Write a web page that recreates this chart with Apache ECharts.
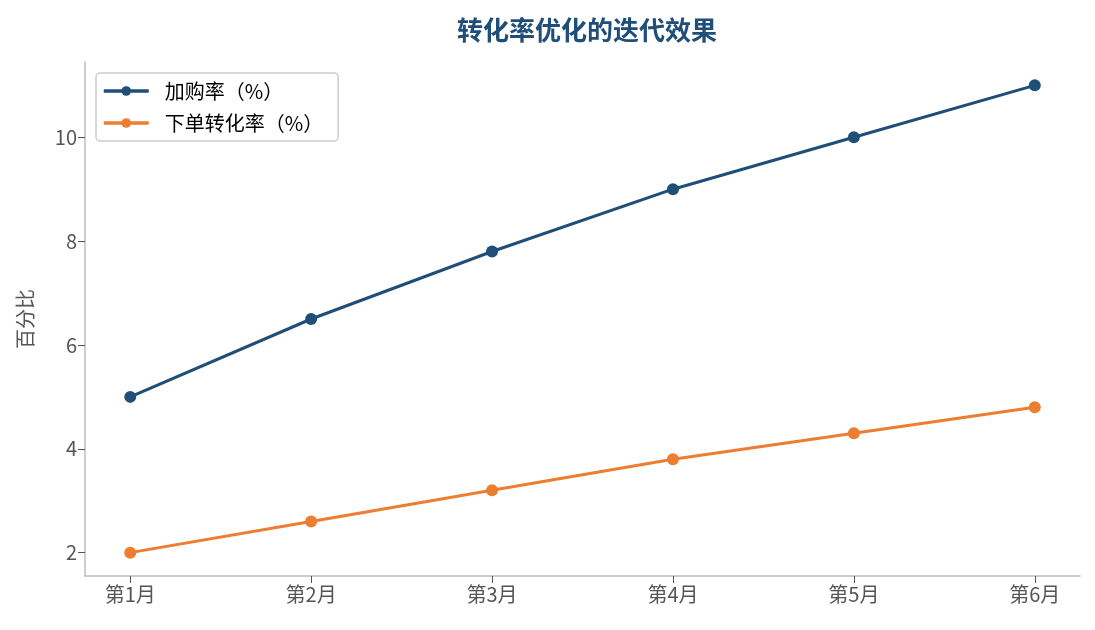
<!DOCTYPE html>
<html><head><meta charset="utf-8">
<script src="https://cdn.jsdelivr.net/npm/echarts@6/dist/echarts.min.js"></script>
<style>html,body{margin:0;padding:0;background:#fff}#c{width:1095px;height:630px}</style>
</head><body><div id="c"></div>
<script>
const categories = ['第1月','第2月','第3月','第4月','第5月','第6月'];
const addToCart = [5, 6.5, 7.8, 9, 10, 11];
const orderConv = [2, 2.6, 3.2, 3.8, 4.3, 4.8];
const yTicks = [2, 4, 6, 8, 10];
const seriesNames = ['加购率（%）', '下单转化率（%）'];

const font = '"Noto Sans CJK SC", "Noto Sans", sans-serif';
const idx = categories.map((_, i) => i);
const chart = echarts.init(document.getElementById('c'));
chart.setOption({
  animation: false,
  textStyle: { fontFamily: font },
  title: {
    text: '转化率优化的迭代效果', left: 582, top: 12, textAlign: 'center',
    textStyle: { fontSize: 26, fontWeight: 'bold', color: '#1f4e79', fontFamily: font }
  },
  grid: { left: 85, right: 15, top: 62, bottom: 54 },
  legend: {
    orient: 'vertical', left: 96, top: 73, padding: [8, 15, 8, 6],
    borderColor: '#cccccc', borderWidth: 1.5, borderRadius: 4,
    itemWidth: 45, itemHeight: 12, itemGap: 12,
    lineStyle: { width: 3.5 },
    textStyle: { fontSize: 20, color: '#000', fontFamily: font, padding: [0, 0, 0, 11] },
    data: seriesNames
  },
  xAxis: {
    type: 'value', min: -0.25, max: 5.25,
    splitLine: { show: false },
    axisLine: { show: true, onZero: false, lineStyle: { color: '#bfbfbf', width: 1.5 } },
    axisTick: { show: true, customValues: idx, length: 7, lineStyle: { color: '#555' } },
    axisLabel: { customValues: idx, formatter: v => categories[Math.round(v)], fontSize: 20, color: '#555', margin: 8, fontFamily: font }
  },
  yAxis: {
    type: 'value', min: 1.55, max: 11.45,
    name: '百分比', nameLocation: 'middle', nameGap: 50, nameRotate: 90,
    nameTextStyle: { fontSize: 20, color: '#555', fontFamily: font },
    splitLine: { show: false },
    axisLine: { show: true, onZero: false, lineStyle: { color: '#bfbfbf', width: 1.5 } },
    axisTick: { show: true, customValues: yTicks, length: 7, lineStyle: { color: '#555' } },
    axisLabel: { customValues: yTicks, fontSize: 20, color: '#555', margin: 8, fontFamily: font }
  },
  series: [
    { name: seriesNames[0], type: 'line', data: addToCart.map((v, i) => [i, v]),
      symbol: 'circle', symbolSize: 12, itemStyle: { color: '#1f4e79' }, lineStyle: { width: 3, color: '#1f4e79' } },
    { name: seriesNames[1], type: 'line', data: orderConv.map((v, i) => [i, v]),
      symbol: 'circle', symbolSize: 12, itemStyle: { color: '#ed7d31' }, lineStyle: { width: 3, color: '#ed7d31' } }
  ]
});
</script></body></html>
